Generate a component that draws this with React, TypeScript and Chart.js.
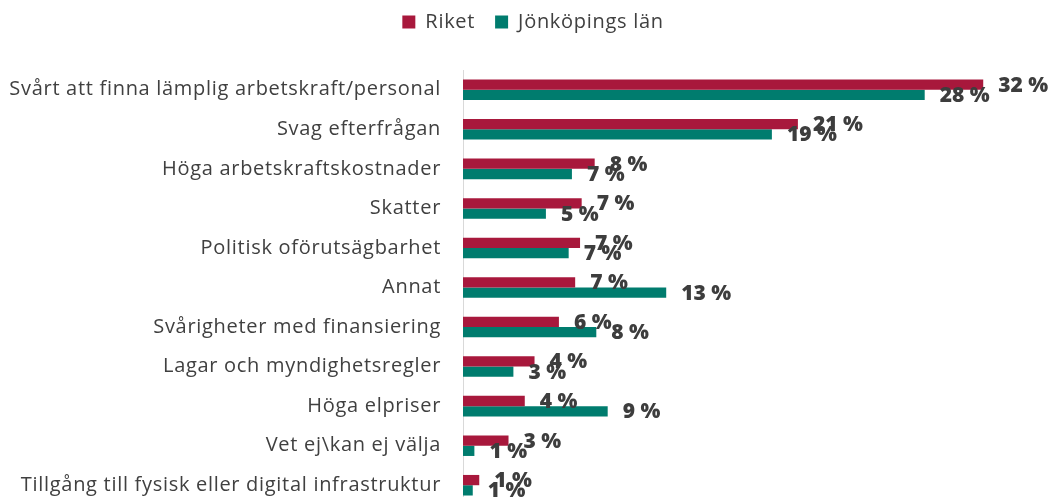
import React, { useEffect, useRef } from "react";
import { Chart, registerables } from "chart.js";

Chart.register(...registerables);

const categories = [
  "Svårt att finna lämplig arbetskraft/personal",
  "Svag efterfrågan",
  "Höga arbetskraftskostnader",
  "Skatter",
  "Politisk oförutsägbarhet",
  "Annat",
  "Svårigheter med finansiering",
  "Lagar och myndighetsregler",
  "Höga elpriser",
  "Vet ej\\kan ej välja",
  "Tillgång till fysisk eller digital infrastruktur",
];

const riket = [32.0, 20.6, 8.1, 7.3, 7.2, 6.9, 5.9, 4.4, 3.8, 2.8, 1.0];
const jonkoping = [28.4, 19.0, 6.7, 5.1, 6.5, 12.5, 8.2, 3.1, 8.9, 0.7, 0.6];

const seriesNames = ["Riket", "Jönköpings län"];
const seriesColors = ["#A8183C", "#007C6E"];

const FONT = "'Open Sans', sans-serif";
const TEXT = "#404040";
const SPACING = "0.7px";

const letterSpacing = {
  id: "letterSpacing",
  beforeLayout(chart: any) {
    (chart.ctx as any).letterSpacing = SPACING;
  },
  beforeDraw(chart: any) {
    (chart.ctx as any).letterSpacing = SPACING;
  },
};

const valueLabels = {
  id: "valueLabels",
  afterDatasetsDraw(chart: any) {
    const ctx = chart.ctx;
    ctx.save();
    (ctx as any).letterSpacing = "0px";
    ctx.font = `800 21px ${FONT}`;
    ctx.fillStyle = "#3d3d3d";
    ctx.textAlign = "left";
    ctx.textBaseline = "middle";
    chart.data.datasets.forEach((ds: any, di: number) => {
      const meta = chart.getDatasetMeta(di);
      meta.data.forEach((el: any, i: number) => {
        const v = ds.data[i];
        ctx.fillText(`${Math.round(v)} %`, el.x + 15, el.y + 1);
      });
    });
    ctx.restore();
  },
};

const legendTweak = {
  id: "legendTweak",
  beforeInit(chart: any) {
    const lg = chart.legend;
    if (!lg) return;
    const origFit = lg.fit;
    lg.fit = function () {
      origFit.call(this);
      this.height += 20;
    };
    const origDraw = lg.draw;
    lg.draw = function () {
      const { left, right, top } = this;
      this.left = left + 17;
      this.right = right + 17;
      this.top = top - 8;
      origDraw.call(this);
      this.left = left;
      this.right = right;
      this.top = top;
    };
  },
};

export default function App() {
  const ref = useRef<HTMLCanvasElement | null>(null);

  useEffect(() => {
    if (!ref.current) return;
    const chart = new Chart(ref.current, {
      type: "bar",
      data: {
        labels: categories,
        datasets: [
          {
            label: seriesNames[0],
            data: riket,
            backgroundColor: seriesColors[0],
            barPercentage: 1,
            categoryPercentage: 0.52,
          },
          {
            label: seriesNames[1],
            data: jonkoping,
            backgroundColor: seriesColors[1],
            barPercentage: 1,
            categoryPercentage: 0.52,
          },
        ],
      },
      options: {
        indexAxis: "y",
        responsive: false,
        animation: false,
        layout: { padding: { left: 0, right: 20, top: 0, bottom: 0 } },
        plugins: {
          legend: {
            position: "top",
            labels: {
              boxWidth: 13,
              boxHeight: 13,
              padding: 20,
              color: TEXT,
              font: { family: FONT, size: 20 },
            },
          },
          tooltip: { enabled: false },
        },
        scales: {
          x: {
            display: false,
            min: 0,
            max: 35,
          },
          y: {
            grid: { display: false, drawTicks: false },
            border: { display: true, color: "#D9D9D9", width: 1 },
            ticks: {
              color: TEXT,
              padding: 22,
              font: { family: FONT, size: 20 },
            },
            afterFit(scale: any) {
              scale.width = 463;
              scale.paddingTop = 0;
              scale.paddingBottom = 0;
            },
          },
        },
      },
      plugins: [letterSpacing, valueLabels, legendTweak],
    });
    return () => chart.destroy();
  }, []);

  return (
    <div
      style={{
        position: "fixed",
        left: 0,
        top: 0,
        width: 1052,
        height: 497,
        overflow: "hidden",
        background: "#fff",
      }}
    >
      <canvas ref={ref} width={1052} height={505} />
    </div>
  );
}
